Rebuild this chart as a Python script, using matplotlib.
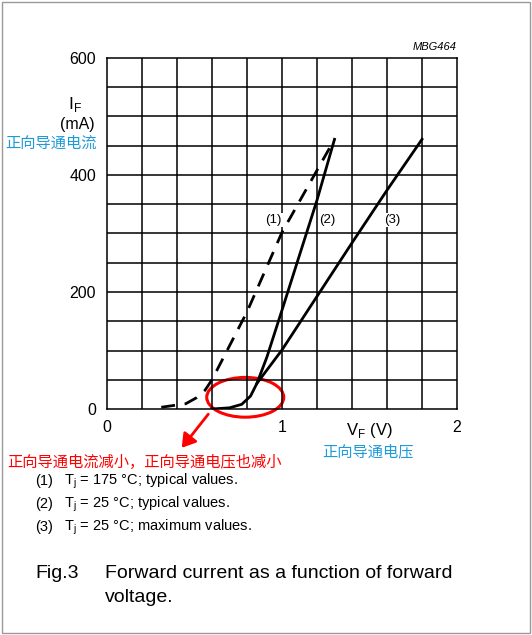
import matplotlib
matplotlib.use("Agg")
import matplotlib.pyplot as plt
from matplotlib.patches import Ellipse, Rectangle, FancyArrowPatch
import numpy as np

plt.rcParams['font.family'] = ['Liberation Sans', 'Noto Sans CJK SC']

v1 = [0.31, 0.45, 0.51, 0.56, 0.6, 0.8, 1.0, 1.2, 1.30]
i1 = [3, 9, 19, 32, 50, 166, 302, 408, 461]
v2 = [0.6, 0.7, 0.77, 0.82, 0.857, 0.914, 1.0, 1.2, 1.30]
i2 = [0, 2, 8, 22, 44, 89, 169, 357, 461]
v3 = [0.857, 1.0, 1.4, 1.6, 1.8]
i3 = [44, 101, 284, 374, 461]
labels = ["(1)", "(2)", "(3)"]
label_pos = [(0.95, 323), (1.26, 323), (1.63, 323)]
yticks = [0, 200, 400, 600]
xticks = [0, 1, 2]

W, H = 532, 635
fig = plt.figure(figsize=(W/100, H/100), dpi=100)
fig.patches.append(Rectangle((2/W, 2/H), 1-4/W, 1-4/H, transform=fig.transFigure,
                             fill=False, edgecolor='#999999', lw=1))
ax = fig.add_axes([107/W, 1-409/H, 350/W, 351/H])
ax.set_xlim(0, 2); ax.set_ylim(0, 600)
for x in np.arange(0.2, 2.0, 0.2):
    ax.axvline(x, color='black', lw=1.1)
for y in np.arange(50, 600, 50):
    ax.axhline(y, color='black', lw=1.1)
for s in ax.spines.values():
    s.set_linewidth(1.1)
ax.set_xticks(xticks); ax.set_yticks(yticks)
ax.tick_params(length=0, labelsize=11.5, pad=8)
ax.set_xticklabels([str(t) for t in xticks])
ax.plot(v1, i1, 'k--', lw=2, dashes=(5, 3.5))
ax.plot(v2, i2, 'k-', lw=2)
ax.plot(v3, i3, 'k-', lw=2)
for t, (x, y) in zip(labels, label_pos):
    ax.text(x, y, t, ha='center', va='center', fontsize=9.5,
            bbox=dict(facecolor='white', edgecolor='none', pad=1))
ax.add_patch(Ellipse((0.79, 20), 0.44, 68, fill=False, edgecolor='red', lw=2.2, clip_on=False))

def ft(x, y, s, **kw):
    fig.text(x/W, 1-y/H, s, **kw)

ft(457, 47, "MBG464", ha='right', va='center', fontsize=8, style='italic')
ft(68, 104, "I$_\\mathregular{F}$", ha='left', va='center', fontsize=12.5)
ft(60, 125, "(mA)", ha='left', va='center', fontsize=11.5)
ft(5, 143, "正向导通电流", ha='left', va='center', fontsize=11, color='#1e9bd7',
   family=['Noto Sans CJK SC'])
ft(346, 431, "V$_\\mathregular{F}$ (V)", ha='left', va='center', fontsize=12)
ft(322, 452, "正向导通电压", ha='left', va='center', fontsize=11, color='#1e9bd7',
   family=['Noto Sans CJK SC'])
ft(7, 462, "正向导通电流减小，正向导通电压也减小", ha='left', va='center', fontsize=11,
   color='red', family=['Noto Sans CJK SC'])
fig.patches.append(FancyArrowPatch((210/W, 1-412/H), (180/W, 1-450/H), transform=fig.transFigure,
                                   arrowstyle='-|>,head_length=8,head_width=5', color='red', lw=2))
leg = ["T$_\\mathregular{j}$ = 175 °C; typical values.",
       "T$_\\mathregular{j}$ = 25 °C; typical values.",
       "T$_\\mathregular{j}$ = 25 °C; maximum values."]
for k, (t, y) in enumerate(zip(leg, [481, 504, 527])):
    ft(35, y, f"({k+1})", ha='left', va='center', fontsize=10.5)
    ft(64, y, t, ha='left', va='center', fontsize=10.5)
ft(35, 574, "Fig.3", ha='left', va='center', fontsize=14)
ft(105, 574, "Forward current as a function of forward", ha='left', va='center', fontsize=14)
ft(105, 598, "voltage.", ha='left', va='center', fontsize=14)
fig.savefig("out.png", dpi=100)
